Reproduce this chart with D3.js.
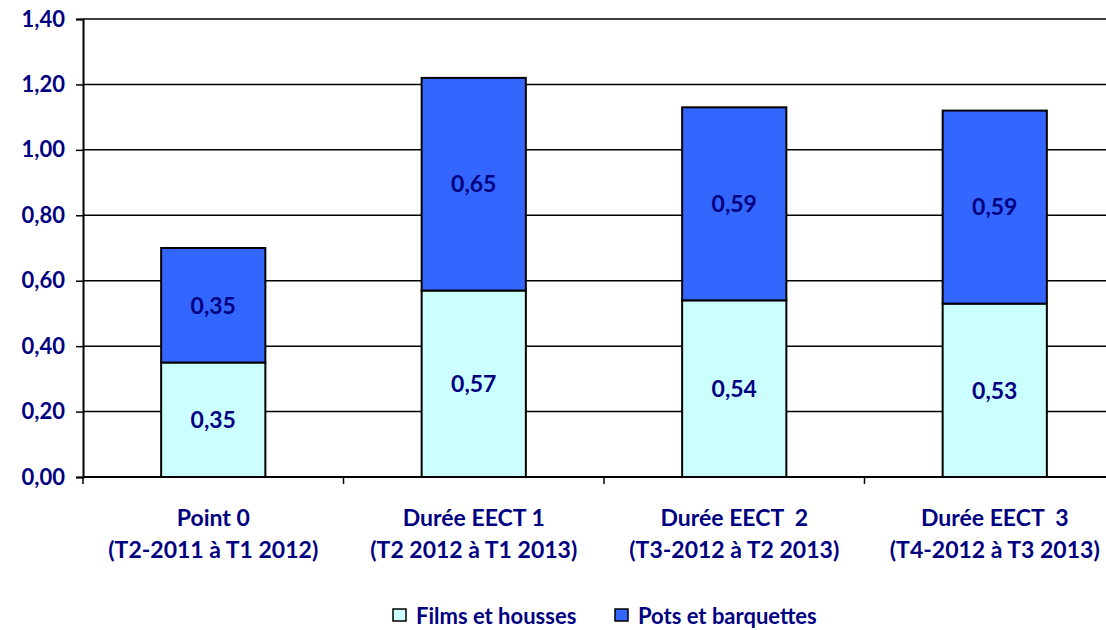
<!DOCTYPE html>
<html>
<head>
<meta charset="utf-8">
<script src="https://cdn.jsdelivr.net/npm/d3@7.9.0/dist/d3.min.js"></script>
<style>
  body { margin: 0; background: #fff; overflow: hidden; }
  svg { display: block; }
  text { font-family: Lato, "Open Sans", sans-serif; font-weight: bold; fill: #000080; }
</style>
</head>
<body>
<svg id="chart" width="1106" height="630"></svg>
<script>
const categories = ["Point 0", "Durée EECT 1", "Durée EECT  2", "Durée EECT  3"];
const subLabels = ["(T2-2011 à T1 2012)", "(T2 2012 à T1 2013)", "(T3-2012 à T2 2013)", "(T4-2012 à T3 2013)"];
const series = ["Films et housses", "Pots et barquettes"];
const films = [0.35, 0.57, 0.54, 0.53];
const pots = [0.35, 0.65, 0.59, 0.59];
const yTicks = [0, 0.2, 0.4, 0.6, 0.8, 1.0, 1.2, 1.4];
const colors = ["#CCFFFF", "#3366FF"];

const svg = d3.select("#chart");
// the plot area runs a little past the right edge of the picture, as in the original
const plotLeft = 83, plotRight = 1125, plotTop = 19, plotBottom = 477;

const x = d3.scaleBand().domain(categories).range([plotLeft, plotRight])
    .paddingInner(0.6).paddingOuter(0.3);
const y = d3.scaleLinear().domain([0, 1.4]).range([plotBottom, plotTop]);
const fmt = v => d3.format(".2f")(v).replace(".", ",");

// gridlines
svg.append("g").selectAll("line").data(yTicks.slice(1)).join("line")
    .attr("x1", plotLeft).attr("x2", plotRight)
    .attr("y1", d => y(d)).attr("y2", d => y(d))
    .attr("stroke", "#000").attr("stroke-width", 1.5);

// y axis
const yAxis = svg.append("g").attr("transform", `translate(${plotLeft},0)`)
    .call(d3.axisLeft(y).tickValues(yTicks).tickFormat(fmt).tickSize(7).tickPadding(11));
yAxis.select(".domain").attr("stroke", "#000").attr("stroke-width", 2);
yAxis.selectAll(".tick line").attr("stroke", "#000").attr("stroke-width", 1.5);
yAxis.selectAll("text").style("font-size", "22px").attr("fill", "#000080");

// stacked data
const rows = categories.map((c, i) => ({ cat: c, films: films[i], pots: pots[i] }));
const stack = d3.stack().keys(["films", "pots"])(rows);

stack.forEach((layer, k) => {
  const g = svg.append("g");
  g.selectAll("rect").data(layer).join("rect")
      .attr("x", d => x(d.data.cat))
      .attr("width", x.bandwidth())
      .attr("y", d => y(d[1]))
      .attr("height", d => y(d[0]) - y(d[1]))
      .attr("fill", colors[k])
      .attr("stroke", "#000").attr("stroke-width", 2);
  g.selectAll("text").data(layer).join("text")
      .attr("x", d => x(d.data.cat) + x.bandwidth() / 2)
      .attr("y", d => (y(d[0]) + y(d[1])) / 2)
      .attr("dy", "0.36em")
      .attr("text-anchor", "middle")
      .style("font-size", "23px")
      .text(d => fmt(d[1] - d[0]));
});

// x axis
const step = x.step();
const xBound = d3.range(categories.length + 1).map(i => plotLeft + i * step);
svg.append("line").attr("x1", plotLeft).attr("x2", plotRight).attr("y1", plotBottom).attr("y2", plotBottom)
    .attr("stroke", "#000").attr("stroke-width", 2);
svg.append("g").selectAll("line").data(xBound).join("line")
    .attr("x1", d => d).attr("x2", d => d)
    .attr("y1", plotBottom).attr("y2", plotBottom + 7)
    .attr("stroke", "#000").attr("stroke-width", 1.5);

const catG = svg.append("g");
categories.forEach((c, i) => {
  const cx = x(c) + x.bandwidth() / 2;
  const t = catG.append("text").attr("text-anchor", "middle").style("font-size", "23px")
      .attr("xml:space", "preserve");
  t.append("tspan").attr("x", cx).attr("y", 526).text(c);
  t.append("tspan").attr("x", cx).attr("y", 558).text(subLabels[i]);
});

// legend
const legendX = [393, 615];
series.forEach((s, i) => {
  svg.append("rect").attr("x", legendX[i]).attr("y", 609).attr("width", 13).attr("height", 12)
      .attr("fill", colors[i]).attr("stroke", "#000").attr("stroke-width", 1.5);
  svg.append("text").attr("x", legendX[i] + 23).attr("y", 624)
      .style("font-size", "22px").text(s);
});
</script>
</body>
</html>
